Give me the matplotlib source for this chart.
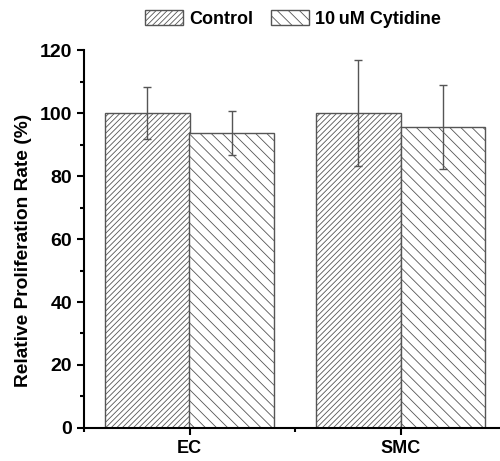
import numpy as np
import matplotlib.pyplot as plt
from matplotlib.ticker import MultipleLocator

plt.rcParams['font.family'] = ['Liberation Sans', 'DejaVu Sans']
plt.rcParams['font.weight'] = 'bold'
plt.rcParams['hatch.linewidth'] = 0.6
plt.rcParams['hatch.color'] = '#555555'

groups = ['EC', 'SMC']
series = ['Control', '10\u2009uM Cytidine']
control = [100.0, 100.0]
control_err = [8.3, 16.7]
cytidine = [93.6, 95.6]
cytidine_err = [7.0, 13.3]

x = np.arange(1, len(groups) + 1)
w = 0.4

fig = plt.figure(figsize=(5.0, 4.61), dpi=100)
ax = fig.add_axes([0.168, 0.0716, 0.844, 0.8199])

err_kw = dict(ecolor='#555555', elinewidth=1.0, capsize=3, capthick=1.0)
ax.bar(x - w / 2, control, w, yerr=control_err, color='white',
       edgecolor='#555555', linewidth=1.0, hatch='//////', label=series[0],
       error_kw=err_kw)
ax.bar(x + w / 2, cytidine, w, yerr=cytidine_err, color='white',
       edgecolor='#555555', linewidth=1.0, hatch='\\\\\\', label=series[1],
       error_kw=err_kw)

ax.set_xlim(0.5, 2.5)
ax.set_ylim(0, 120)
ax.set_xticks(x)
ax.set_xticklabels(groups, fontsize=13, fontweight='bold')
ax.xaxis.set_minor_locator(MultipleLocator(0.5))
ax.yaxis.set_major_locator(MultipleLocator(20))
ax.yaxis.set_minor_locator(MultipleLocator(10))
ax.tick_params(axis='both', which='major', direction='out', length=5, width=1.5)
ax.tick_params(axis='y', which='major', labelsize=14)
ax.tick_params(axis='both', which='minor', direction='out', length=3, width=1.5)
for lbl in ax.get_yticklabels():
    lbl.set_fontweight('bold')

ax.spines['top'].set_visible(False)
ax.spines['right'].set_visible(False)
ax.spines['left'].set_linewidth(1.5)
ax.spines['bottom'].set_linewidth(1.5)

ax.set_ylabel('Relative Proliferation Rate (%)', fontsize=13.8, fontweight='bold')
ax.yaxis.set_label_coords(-0.123, 0.47)

ax.legend(loc='lower center', bbox_to_anchor=(0.495, 1.04), ncol=2, frameon=False,
          fontsize=13, handlelength=2.1, handleheight=0.9, columnspacing=1.0,
          handletextpad=0.33, borderaxespad=0)

fig.savefig('out.png', dpi=100)
